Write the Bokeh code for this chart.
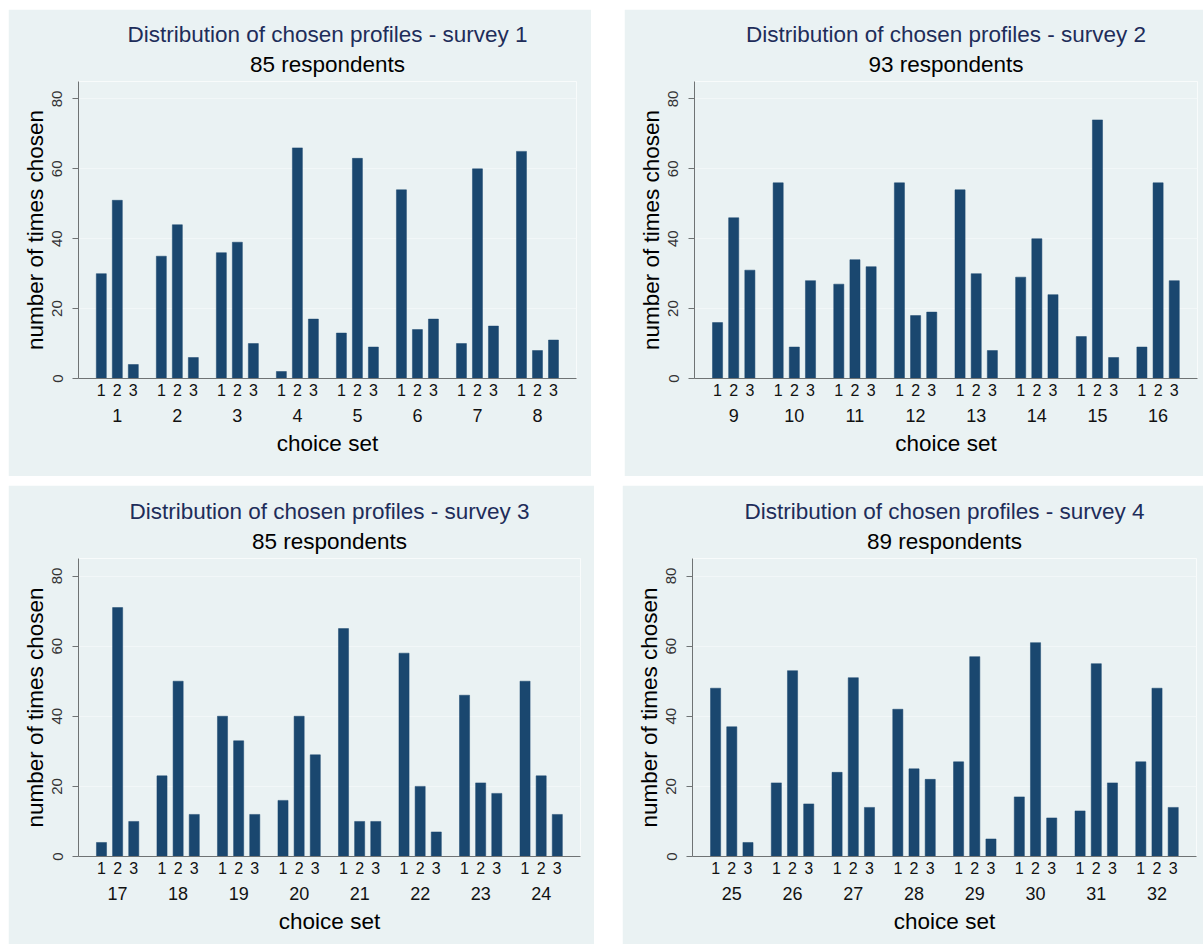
from bokeh.plotting import figure
from bokeh.models import FixedTicker, LinearAxis, Range1d, Title, ColumnDataSource
from bokeh.layouts import row, column
from bokeh.embed import file_html
from bokeh.resources import INLINE

# ---------------- data ----------------
profiles = ["1", "2", "3"]

titles = [
    "Distribution of chosen profiles - survey 1",
    "Distribution of chosen profiles - survey 2",
    "Distribution of chosen profiles - survey 3",
    "Distribution of chosen profiles - survey 4",
]
subtitles = ["85 respondents", "93 respondents", "85 respondents", "89 respondents"]

sets_1 = ["1", "2", "3", "4", "5", "6", "7", "8"]
sets_2 = ["9", "10", "11", "12", "13", "14", "15", "16"]
sets_3 = ["17", "18", "19", "20", "21", "22", "23", "24"]
sets_4 = ["25", "26", "27", "28", "29", "30", "31", "32"]

# counts per choice set, profiles 1,2,3
counts_1 = [30, 51, 4, 35, 44, 6, 36, 39, 10, 2, 66, 17,
            13, 63, 9, 54, 14, 17, 10, 60, 15, 65, 8, 11]
counts_2 = [16, 46, 31, 56, 9, 28, 27, 34, 32, 56, 18, 19,
            54, 30, 8, 29, 40, 24, 12, 74, 6, 9, 56, 28]
counts_3 = [4, 71, 10, 23, 50, 12, 40, 33, 12, 16, 40, 29,
            65, 10, 10, 58, 20, 7, 46, 21, 18, 50, 23, 12]
counts_4 = [48, 37, 4, 21, 53, 15, 24, 51, 14, 42, 25, 22,
            27, 57, 5, 17, 61, 11, 13, 55, 21, 27, 48, 14]

y_ticks = [0, 20, 40, 60, 80]
y_label = "number of times chosen"
x_label = "choice set"

# ---------------- style ----------------
BG = "#EAF2F3"
BAR = "#1A476F"
AXIS = "#6F7374"
NAVY = "#1E2D5A"
FONT = "Liberation Sans"
GROUP_STEP = 15
BAR_STEP = 4


def make_panel(title, subtitle, sets, counts, w, h, bl, br, bt, bb):
    xs = [GROUP_STEP * g + BAR_STEP * (k - 1) for g in range(len(sets)) for k in range(len(profiles))]
    labels = [profiles[k] for g in range(len(sets)) for k in range(len(profiles))]
    centers = [GROUP_STEP * g for g in range(len(sets))]
    src = ColumnDataSource(dict(x=xs, top=counts))

    p = figure(width=w, height=h, title=None,
               x_range=Range1d(-9.7, 114.75), y_range=Range1d(0, 85),
               x_axis_type=None, output_backend="svg", toolbar_location=None,
               min_border_left=bl, min_border_right=br,
               min_border_top=bt, min_border_bottom=bb,
               background_fill_color=BG, border_fill_color=BG,
               outline_line_color="#F8FBFB", outline_line_width=1)
    p.vbar(x="x", top="top", bottom=0, width=2.5, source=src,
           fill_color=BAR, line_color=BAR, line_width=0.5)

    # y axis
    ya = p.yaxis[0]
    ya.ticker = FixedTicker(ticks=y_ticks)
    ya.major_label_orientation = "vertical"
    ya.major_tick_out = 6
    ya.major_tick_in = 0
    ya.minor_tick_line_color = None
    ya.axis_line_color = AXIS
    ya.major_tick_line_color = AXIS
    ya.major_label_text_font = FONT
    ya.major_label_text_font_size = "15px"
    ya.major_label_text_color = "#333333"
    ya.major_label_standoff = 10
    ya.axis_label = y_label
    ya.axis_label_text_font = FONT
    ya.axis_label_text_font_size = "22.5px"
    ya.axis_label_text_font_style = "normal"
    ya.axis_label_text_color = "#000000"
    ya.axis_label_standoff = 2
    p.ygrid.ticker = FixedTicker(ticks=y_ticks)
    p.ygrid.grid_line_color = "#F2F7F8"

    # x axes: profile numbers, then choice set numbers
    ax1 = LinearAxis(ticker=FixedTicker(ticks=xs),
                     major_label_overrides={x: l for x, l in zip(xs, labels)},
                     major_tick_out=0, major_tick_in=0,
                     minor_tick_line_color=None, major_tick_line_color=None,
                     axis_line_color=AXIS,
                     major_label_standoff=5,
                     major_label_text_font=FONT,
                     major_label_text_font_size="16px",
                     major_label_text_color="#111111")
    p.add_layout(ax1, "below")
    ax2 = LinearAxis(ticker=FixedTicker(ticks=centers),
                     major_label_overrides={c: s for c, s in zip(centers, sets)},
                     major_tick_out=0, major_tick_in=0,
                     minor_tick_line_color=None, major_tick_line_color=None,
                     axis_line_color=None,
                     major_label_standoff=10,
                     major_label_text_font=FONT,
                     major_label_text_font_size="18px",
                     major_label_text_color="#111111",
                     axis_label=x_label,
                     axis_label_standoff=6,
                     axis_label_text_font=FONT,
                     axis_label_text_font_size="22.5px",
                     axis_label_text_font_style="normal",
                     axis_label_text_color="#000000")
    p.add_layout(ax2, "below")

    sub = Title(text=subtitle, align="center", text_font=FONT, text_font_size="22.5px",
                text_font_style="normal", text_color="#000000", standoff=10)
    p.add_layout(sub, "above")
    ttl = Title(text=title, align="center", text_font=FONT, text_font_size="22.5px",
                text_font_style="normal", text_color=NAVY, standoff=-4)
    p.add_layout(ttl, "above")
    return p


p1 = make_panel(titles[0], subtitles[0], sets_1, counts_1, 583, 467, 70, 15, 72, 98)
p2 = make_panel(titles[1], subtitles[1], sets_2, counts_2, 580, 467, 70, 7, 72, 95)
p3 = make_panel(titles[2], subtitles[2], sets_3, counts_3, 586, 459, 70, 14, 73, 88)
p4 = make_panel(titles[3], subtitles[3], sets_4, counts_4, 581, 459, 70, 7, 73, 88)

layout = column(row(p1, p2, spacing=33), row(p3, p4, spacing=28), spacing=9,
                margin=(9, 0, 0, 8))

open("out.html", "w").write(file_html(layout, INLINE))
